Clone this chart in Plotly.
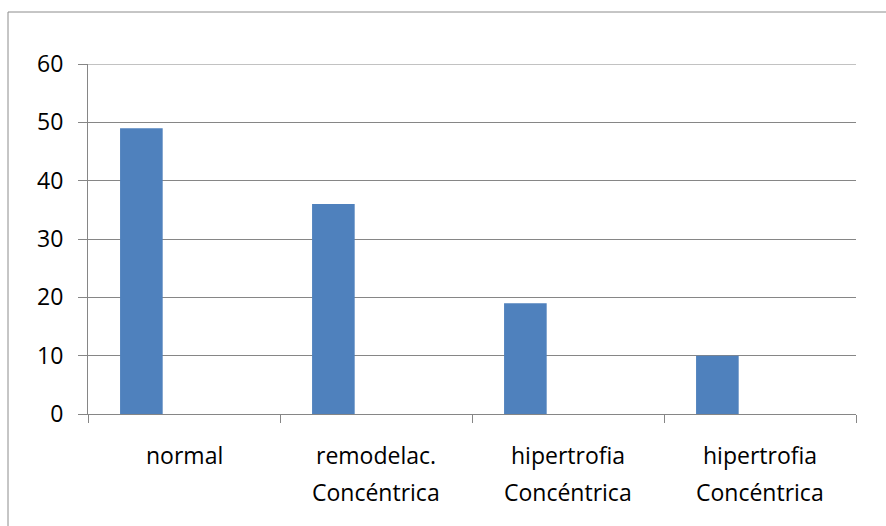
import plotly.graph_objects as go

# Chart data
label_line1 = ["normal", "remodelac.", "hipertrofia", "hipertrofia"]
label_line2 = ["", "Concéntrica", "Concéntrica", "Concéntrica"]
values = [49, 36, 19, 10]
y_ticks = [0, 10, 20, 30, 40, 50, 60]

positions = list(range(len(values)))
FONT = "Open Sans"
FS = 23
GRID = "#868686"

fig = go.Figure()
# Clustered-style bar: first slot of three in each category
fig.add_trace(go.Bar(
    x=positions, y=values,
    width=0.222, offset=-0.333,
    marker=dict(color="#4F81BD", line=dict(width=0)),
    showlegend=False, hoverinfo="y",
))

# Category labels (two lines, wide line spacing)
for i, (a, b) in enumerate(zip(label_line1, label_line2)):
    fig.add_annotation(x=i, y=0, xref="x", yref="paper", text=a,
                       showarrow=False, yanchor="middle", yshift=-41,
                       font=dict(family=FONT, size=FS, color="#000"))
    if b:
        fig.add_annotation(x=i, y=0, xref="x", yref="paper", text=b,
                           showarrow=False, yanchor="middle", yshift=-78,
                           font=dict(family=FONT, size=FS, color="#000"))

# Top gridline at the axis maximum
fig.add_shape(type="line", xref="paper", yref="y", x0=0, x1=1,
              y0=y_ticks[-1], y1=y_ticks[-1], line=dict(color=GRID, width=1))

# Chart-area border (left and top edges visible)
W, H = 886, 526
L, R, T, B = 88, 30, 64, 112
pw, ph = W - L - R, H - T - B
bx = (8 - L) / pw
by = (H - B - 12) / ph
fig.add_shape(type="line", xref="paper", yref="paper", x0=bx, x1=bx, y0=by, y1=-1,
              line=dict(color="#8c8c8c", width=1))
fig.add_shape(type="line", xref="paper", yref="paper", x0=bx, x1=1.2, y0=by, y1=by,
              line=dict(color="#8c8c8c", width=1))

fig.update_layout(
    width=W, height=H,
    margin=dict(l=L, r=R, t=T, b=B),
    plot_bgcolor="white", paper_bgcolor="white",
    font=dict(family=FONT, size=FS, color="#000"),
    xaxis=dict(
        range=[-0.5, len(values) - 0.5],
        tickvals=[p - 0.5 for p in positions] + [len(values) - 0.5],
        ticktext=[""] * (len(values) + 1),
        ticks="outside", ticklen=8, tickcolor=GRID,
        showgrid=False, zeroline=False,
        showline=True, linecolor=GRID, linewidth=1,
        fixedrange=True,
    ),
    yaxis=dict(
        range=[0, 60], tickvals=y_ticks,
        ticks="outside", ticklen=9, tickcolor=GRID,
        showgrid=True, gridcolor=GRID, gridwidth=1,
        zeroline=False, showline=True, linecolor=GRID, linewidth=1,
        ticklabelstandoff=10,
        tickfont=dict(family=FONT, size=FS, color="#000"),
        fixedrange=True,
    ),
)

fig.write_html("out.html")
